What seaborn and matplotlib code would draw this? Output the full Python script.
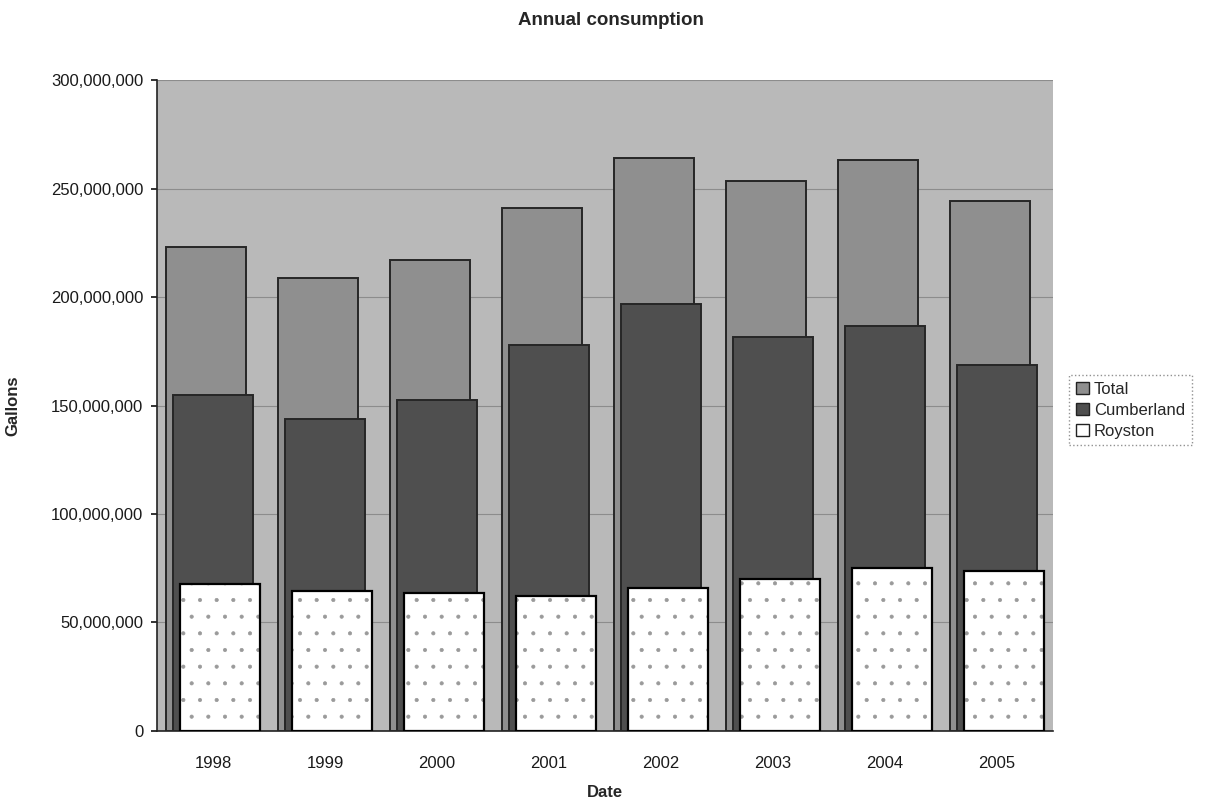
import numpy as np
import pandas as pd
import matplotlib
matplotlib.use("Agg")
import matplotlib.pyplot as plt
from matplotlib.patches import Patch
from matplotlib.ticker import FuncFormatter
import seaborn as sns

years = ["1998", "1999", "2000", "2001", "2002", "2003", "2004", "2005"]
total = [223.0e6, 208.8e6, 217.1e6, 241.0e6, 264.1e6, 253.5e6, 263.1e6, 244.2e6]
cumberland = [154.8e6, 143.8e6, 152.5e6, 177.9e6, 196.8e6, 181.6e6, 186.6e6, 168.7e6]
royston = [67.7e6, 64.5e6, 63.6e6, 62.2e6, 65.9e6, 70.0e6, 75.1e6, 73.7e6]

df = pd.DataFrame({"Date": years, "Total": total,
                   "Cumberland": cumberland, "Royston": royston})

sns.set_theme(style="white")
plt.rcParams["font.family"] = ["Liberation Sans", "DejaVu Sans"]
plt.rcParams["hatch.linewidth"] = 0.5

fig = plt.figure(figsize=(12.22, 8.01), dpi=100)
ax = fig.add_axes([0.1285, 0.0874, 0.7332, 0.8127])
ax.set_facecolor("#b9b9b9")

bar_w = 0.71
series = [("Total", "#8f8f8f", -0.0625),
          ("Cumberland", "#4f4f4f", 0.0),
          ("Royston", "white", 0.0625)]


def shift_new(before, offset):
    for p in ax.patches[before:]:
        p.set_x(p.get_x() + offset)


for name, color, off in series:
    n0 = len(ax.patches)
    if name == "Royston":
        # stippled fill first, then a plain black outline on top
        sns.barplot(data=df, x="Date", y=name, color="white", width=bar_w,
                    saturation=1, errorbar=None, ax=ax, zorder=3,
                    edgecolor="#9a9a9a", linewidth=0, hatch=".")
        shift_new(n0, off)
        n1 = len(ax.patches)
        sns.barplot(data=df, x="Date", y=name, color="black", width=bar_w,
                    fill=False, errorbar=None, ax=ax, zorder=4, linewidth=1.6)
        shift_new(n1, off)
    else:
        sns.barplot(data=df, x="Date", y=name, color=color, width=bar_w,
                    saturation=1, errorbar=None, ax=ax, zorder=3,
                    edgecolor="#262626", linewidth=1.4)
        shift_new(n0, off)

ax.set_ylim(0, 300e6)
ax.set_xlim(-0.5, len(years) - 0.5)
ax.set_yticks(np.arange(0, 300e6 + 1, 50e6))
ax.yaxis.set_major_formatter(FuncFormatter(lambda v, _: f"{v:,.0f}"))
ax.yaxis.grid(True, color="#8c8c8c", linewidth=0.8, zorder=0)
ax.set_axisbelow(True)

for side in ("top", "right"):
    ax.spines[side].set_visible(False)
ax.spines["left"].set_color("#222222")
ax.spines["bottom"].set_color("#222222")
ax.spines["left"].set_linewidth(1.2)
ax.spines["bottom"].set_linewidth(1.2)

ax.tick_params(axis="both", labelsize=12, colors="#1a1a1a", length=4,
               direction="out", left=True, bottom=False, pad=6)
ax.tick_params(axis="x", pad=14)

ax.set_xlabel("Date", fontsize=12, fontweight="bold", labelpad=10)
ax.set_ylabel("Gallons", fontsize=12, fontweight="bold", labelpad=22)
fig.suptitle("Annual consumption", fontsize=13.5, fontweight="bold",
             y=0.985)

handles = [Patch(facecolor="#8f8f8f", edgecolor="#222222", label="Total"),
           Patch(facecolor="#4f4f4f", edgecolor="#222222", label="Cumberland"),
           Patch(facecolor="white", edgecolor="#222222", label="Royston")]
leg = fig.legend(handles=handles, loc="center left",
                 bbox_to_anchor=(0.868, 0.488), fontsize=12, frameon=True,
                 fancybox=False, handlelength=0.8, handleheight=0.8,
                 handletextpad=0.3, labelspacing=0.35, borderpad=0.4)
leg.get_frame().set_edgecolor("#777777")
leg.get_frame().set_linestyle(":")
leg.get_frame().set_linewidth(1.0)

fig.savefig("out.png", dpi=100, facecolor="white")
